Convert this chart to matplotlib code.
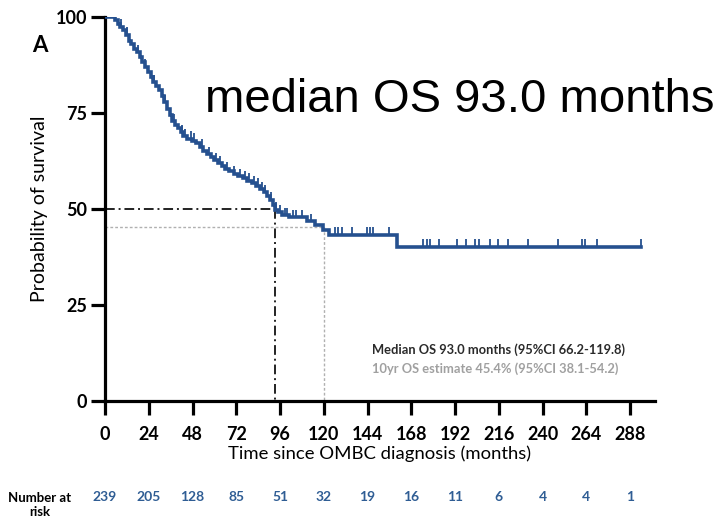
import numpy as np
import matplotlib
matplotlib.use("Agg")
import matplotlib.pyplot as plt
from matplotlib.transforms import blended_transform_factory

# Kaplan-Meier overall survival (months, % surviving after each event)
event_months = [0, 5.5, 7, 8.5, 10, 11.5, 13, 14.5, 16, 17.5, 19, 20.5, 22, 23.5,
                25, 26.5, 28, 29.5, 31, 32.5, 34, 35.5, 37, 38.5, 40, 41.5, 43,
                45, 47.5, 50, 52, 54, 56, 58, 60, 62, 64, 66, 68, 70.5, 73, 75.5,
                78, 80.5, 83, 85, 87, 89, 90.5, 92, 93, 95, 97, 101, 111, 115,
                119.6, 123, 160]
survival_pct = [100, 99.2, 98.3, 97.5, 96.6, 95.4, 93.8, 92.9, 91.6, 90.8, 89.6,
                88.3, 87.1, 85.8, 84.3, 83.0, 82.0, 81.0, 79.3, 77.8, 76.1, 74.4,
                72.8, 71.9, 71.0, 70.1, 69.0, 68.3, 67.8, 67.1, 66.2, 65.2, 64.3,
                63.5, 62.8, 62.0, 61.1, 60.3, 59.8, 59.2, 58.6, 58.0, 57.4, 56.8,
                56.1, 55.2, 54.3, 53.4, 52.4, 51.0, 49.8, 49.2, 48.4, 47.9, 46.9,
                45.8, 44.5, 43.3, 40.2]
last_followup = 294

censor_months = [3, 9, 12, 18, 22, 27, 33, 38, 42, 44, 47, 49, 53, 57, 61, 63, 67,
                 71, 74, 77, 79, 82, 84, 86, 88, 91, 94, 96, 99, 100, 103, 105,
                 108, 113, 126, 128, 130, 135.5, 143.5, 145.3, 147, 156, 174.4,
                 176.6, 178.3, 183, 193, 198, 203, 205, 211, 215.6, 221, 232,
                 248.5, 261.7, 263.3, 270, 294]

xticks = [0, 24, 48, 72, 96, 120, 144, 168, 192, 216, 240, 264, 288]
yticks = [0, 25, 50, 75, 100]
number_at_risk = [239, 205, 128, 85, 51, 32, 19, 16, 11, 6, 4, 4, 1]

median_os = 93.0
ten_year_month = 120
ten_year_pct = 45.4

curve_color = "#25508f"
risk_color = "#2f5d94"
font = "Lato"

fig = plt.figure(figsize=(7.22, 5.2), dpi=100)
ax = fig.add_axes([105 / 722, 1 - 401 / 520, 550 / 722, 384 / 520])

# survival curve
t = np.array(event_months + [last_followup])
s = np.array(survival_pct + [survival_pct[-1]])
ax.step(t, s, where="post", color=curve_color, lw=2.6, zorder=3,
        solid_joinstyle="miter")

# censor marks
ev = np.array(event_months)
sv = np.array(survival_pct)
cm = np.array(censor_months)
cs = sv[np.searchsorted(ev, cm, side="right") - 1]
ax.vlines(cm, cs, cs + 1.9, color=curve_color, lw=1.3, zorder=3)

# median and 10-year reference lines
ax.plot([0, median_os], [50, 50], color="#222222", lw=1.4, ls=(0, (5, 2, 1, 2)), zorder=2)
ax.plot([median_os, median_os], [50, 0], color="#222222", lw=1.4, ls=(0, (5, 2, 1, 2)), zorder=2)
ax.plot([0, ten_year_month], [ten_year_pct, ten_year_pct], color="#b0b0b0", lw=1.0, ls=(0, (2, 1.5)), zorder=2)
ax.plot([ten_year_month, ten_year_month], [ten_year_pct, 0], color="#b0b0b0", lw=1.0, ls=(0, (2, 1.5)), zorder=2)

ax.set_xlim(0, 301.7)
ax.set_ylim(0, 100)
ax.set_xticks(xticks)
ax.set_yticks(yticks)
ax.set_xticklabels([str(v) for v in xticks], fontfamily=font, fontweight="bold", fontsize=13)
ax.set_yticklabels([str(v) for v in yticks], fontfamily=font, fontweight="bold", fontsize=13)
for side in ("top", "right"):
    ax.spines[side].set_visible(False)
for side in ("left", "bottom"):
    ax.spines[side].set_linewidth(2.3)
ax.tick_params(axis="both", length=10, width=2.3, direction="out", colors="black", pad=3)
ax.tick_params(axis="x", pad=8)
ax.patch.set_visible(False)

ax.set_xlabel("Time since OMBC diagnosis (months)", fontfamily=font, fontsize=13.3, labelpad=2)
ax.set_ylabel("Probability of survival", fontfamily=font, fontsize=14, labelpad=5)

# annotations
ax.text(0.486, 0.135, "Median OS 93.0 months (95%CI 66.2-119.8)", transform=ax.transAxes,
        fontfamily=font, fontweight="bold", fontsize=9.3, color="#2a2a2a", va="center")
ax.text(0.486, 0.083, "10yr OS estimate 45.4% (95%CI 38.1-54.2)", transform=ax.transAxes,
        fontfamily=font, fontweight="bold", fontsize=9.3, color="#a0a0a0", va="center")

fig.text(40 / 722, 1 - 45 / 520, "A", fontfamily=font, fontweight="bold", fontsize=16,
         ha="center", va="center")
fig.text(205 / 722, 1 - 100 / 520, "median OS 93.0 months", fontfamily="Liberation Sans",
         fontsize=34, ha="left", va="center", color="black")

# number at risk row
trans = blended_transform_factory(ax.transData, fig.transFigure)
for x, n in zip(xticks, number_at_risk):
    ax.text(x, 1 - 497 / 520, str(n), transform=trans, ha="center", va="center",
            fontfamily=font, fontweight="bold", fontsize=10, color=risk_color)
fig.text(40 / 722, 1 - 505 / 520, "Number at\nrisk", fontfamily=font, fontweight="bold",
         fontsize=9.5, ha="center", va="center", linespacing=1.3)

fig.savefig("out.png", dpi=100)
